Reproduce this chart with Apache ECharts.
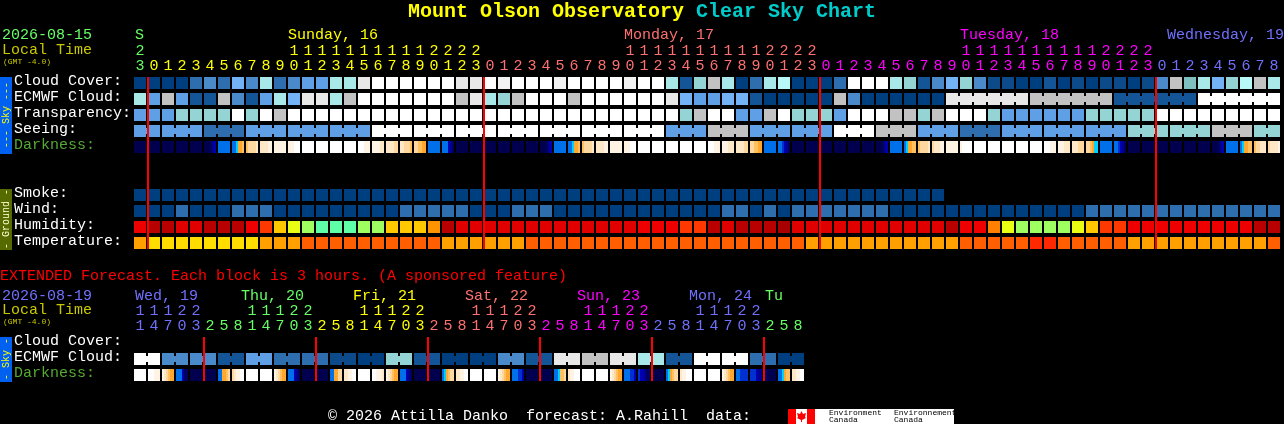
<!DOCTYPE html>
<html><head><meta charset="utf-8">
<style>html,body{margin:0;padding:0;background:#000}#c{width:1284px;height:424px}</style>
<script src="https://cdn.jsdelivr.net/npm/echarts@6/dist/echarts.min.js"></script>
</head><body><div id="c"></div>
<script>
const cloudPalette=['#003f7f','#135597','#2e6eae','#4a8aca','#5f9fe5','#72b2f5','#94d4d4','#a8e8e8','#b8f8f8','#c2c2c2','#e8e8e8','#ffffff','#f2f2f2','#7fbfbf','#0c4a8a'];
const humidityPalette=['#a80000','#b80000','#e00000','#ee0000','#ff3800','#ff8000','#ff9400','#ffc800','#e8ff14','#a0ff60','#5fffa8'];
const temperaturePalette=['#ffdd00','#ffa000','#ff5f00','#ff2800'];
const darknessPalette=['#00004f','#000060','#000090','#0000b0','#0030d0','#0070ea','#00d0ff','#ffa830','#ffc060','#ffd8a0','#ffe8c8','#fff4e4','#ffffff'];

const rowNames=['Cloud Cover:','ECMWF Cloud:','Transparency:','Seeing:','Darkness:','','','Smoke:','Wind:','Humidity:','Temperature:'];
const rowColors=['#fff','#fff','#fff','#fff','#55aa33','#fff','#fff','#fff','#fff','#fff','#fff'];
const extRowNames=['Cloud Cover:','ECMWF Cloud:','Darkness:'];
const extRowColors=['#fff','#fff','#55aa33'];

const hours=[23,0,1,2,3,4,5,6,7,8,9,10,11,12,13,14,15,16,17,18,19,20,21,22,23,0,1,2,3,4,5,6,7,8,9,10,11,12,13,14,15,16,17,18,19,20,21,22,23,0,1,2,3,4,5,6,7,8,9,10,11,12,13,14,15,16,17,18,19,20,21,22,23,0,1,2,3,4,5,6,7,8];
const extHours=[11,14,17,20,23,2,5,8,11,14,17,20,23,2,5,8,11,14,17,20,23,2,5,8,11,14,17,20,23,2,5,8,11,14,17,20,23,2,5,8,11,14,17,20,23,2,5,8];
const dayLabels=['S','Sunday, 16','Monday, 17','Tuesday, 18','Wednesday, 19'];
const extDayLabels=['Wed, 19','Thu, 20','Fri, 21','Sat, 22','Sun, 23','Mon, 24','Tu'];
const midnights=[1,25,49,73];
const extMidnights=[5,13,21,29,37,45];

const cloudCover=[0,0,0,0,2,3,2,5,3,7,2,3,4,4,7,7,10,11,11,11,11,
 11,11,10,10,11,12,11,11,11,12,11,11,11,11,12,11,11,7,1,6,9,7,0,2,7,8,0,0,0,2,11,
 11,11,7,6,1,3,5,6,3,14,14,0,0,1,0,14,0,14,14,0,14,3,9,13,7,5,6,8,9,7];
const ecmwfCloud=[7,4,9,4,1,1,9,3,1,4,7,5,10,10,7,9,11,11,11,11,11,
 11,11,9,10,7,6,9,11,11,11,9,11,11,11,11,11,11,10,5,4,4,5,5,1,0,0,0,0,0,9,3,
 0,0,0,0,0,0,10,10,10,10,10,10,9,9,9,9,9,9,1,1,1,1,1,1,11,11,11,11,11,11];
const ecmwfGroups=[[58,63],[64,69],[70,75],[76,81]];
const transparency=[4,4,4,6,6,6,6,11,6,11,9,11,11,11,11,11,11,11,11,11,11,
 11,11,11,11,11,11,11,11,11,11,11,11,11,11,11,11,11,11,6,9,11,11,4,4,9,11,6,6,6,4,11,
 11,11,9,9,6,9,11,11,11,6,4,4,4,4,4,4,6,6,6,6,6,11,11,11,11,11,11,11,11,11];
const seeing=[4,4,4,4,4,2,2,2,4,4,4,4,4,4,4,4,4,11,11,11,11,11,11,11,11,11,11,11,11,11,11,11,11,11,11,11,11,11,
 4,4,4,9,9,9,4,4,4,4,4,4,11,11,11,9,9,9,4,4,4,2,2,2,4,4,4,4,4,4,4,4,4,6,6,6,6,6,6,9,9,9,6,6];
const seeingGroups=[[0,1],[2,4],[5,7],[8,10],[11,13],[14,16],[17,19],[20,22],[23,25],[26,28],[29,31],[32,34],[35,37],[38,40],[41,43],[44,46],[47,49],[50,52],[53,55],[56,58],[59,61],[62,64],[65,67],[68,70],[71,73],[74,76],[77,79],[80,81]];
const darkness=['000000','000000','000000','000000','000000','000123','555555','556778','89999a','aaaabb','bbbbbb','bbbccc','cccccc','cccccc','cccccc','cccccc','cccbbb','bbbbaa','aaaa99','aa9998','998877',
 '555555','555321','000000','000000','000000','000000','000000','000000','000123','555555','556778','89999a','aaaabb','bbbbbb','bbbccc','cccccc','cccccc','cccccc','cccccc','cccccc','cccbbb','bbbaaa','aaaa99','998877','555555','554321','000000','000000','000000','000000','000000',
 '000000','000123','555555','567788','89999a','9aaabb','bbbbbb','bccccc','cccccc','cccccc','cccccc','cccccc','cccccc','cccbbb','bbbaaa','aaa999','998766','555555','554321','000000','000000','000000','000000','000000','000000','000123','555555','567788','899aaa','9aaaab'];
const smoke=[0,0,0,0,0,0,0,0,0,0,0,0,0,0,0,0,0,0,0,0,0,0,0,0,0,0,0,0,0,0,0,0,0,0,0,0,0,0,0,0,0,0,0,0,0,0,0,0,0,0,0,0,0,0,0,0,0,0];
const wind=[0,0,0,2,0,0,0,2,2,2,0,0,0,0,0,0,0,0,0,2,2,2,2,2,0,0,0,2,2,2,0,0,0,0,0,0,0,0,0,0,0,0,2,2,0,2,0,2,2,2,2,2,2,2,0,0,0,0,0,0,0,0,0,0,0,0,0,0,2,2,2,2,2,2,2,2,2,2,2,2,2,2];
const humidity=[3,1,1,2,2,1,1,1,3,4,7,8,9,10,10,10,9,9,7,7,7,
 6,1,2,2,2,2,2,2,2,2,2,2,2,2,2,3,3,3,4,4,1,2,1,1,1,0,2,2,2,2,2,
 2,2,2,2,2,2,1,3,3,5,8,9,9,9,9,8,7,4,4,3,3,3,3,3,3,3,3,3,1,1];
const temperature=[1,0,0,0,0,0,0,0,0,1,1,1,2,2,2,2,2,2,2,2,2,2,1,1,1,1,1,1,2,2,2,2,2,2,2,2,2,2,2,2,2,2,2,2,2,2,2,2,1,1,1,1,1,1,1,1,1,1,1,2,2,2,2,2,3,3,2,2,2,2,2,1,1,1,1,1,1,1,1,1,1,2];

const extEcmwf=[11,11,3,3,3,3,1,1,4,4,2,2,2,2,14,14,0,0,6,6,1,1,0,0,0,0,3,3,1,1,10,10,9,9,10,10,7,7,1,1,11,11,11,11,2,2,0,0];
const extGroups=[[0,1],[2,3],[4,5],[6,7],[8,9],[10,11],[12,13],[14,15],[16,17],[18,19],[20,21],[22,23],[24,25],[26,27],[28,29],[30,31],[32,33],[34,35],[36,37],[38,39],[40,41],[42,43],[44,45],[46,47]];
const extDarkness=['cccccc','cccbbb','ba9877','555311','000000','000000','557789','9abbcc','cccccc','cccccc','ba9877','555321','000000','000000','557799','aabbcc','cccccc','ccbbba','ba9877','555321','000000','000000','567899','aabbcc','cccccc','cccccc','ba9877','555443','000000','000000','556889','abbccc','cccccc','cccccc','ba9877','555443','433211','000000','567899','abbccc','cccccc','cccccc','ba9877','554444','444322','110000','556788','aabbcc'];

const FONT='"Liberation Mono"';
const DAY={green:'#66ff66',yellow:'#ffff00',pink:'#ff7070',mag:'#ff00ff',blue:'#7070ff'};
const dayColors=[DAY.green,DAY.yellow,DAY.pink,DAY.mag,DAY.blue];
const extDayColors=[DAY.blue,DAY.green,DAY.yellow,DAY.pink,DAY.mag,DAY.blue,DAY.green];
const dayX=[135,288,624,960,1167];
const extDayX=[135,241,353,465,577,689,765];
const CELL=12,JOIN=6,PITCH=14;

function joinEnds(groups){const s={};groups.forEach(g=>{for(let i=g[0];i<g[1];i++)s[i]=1;});return s;}
function blockSeries(name,axis,row,values,palette,groups,z){
  const joins=joinEnds(groups||[]);
  return {name,type:'custom',xAxisIndex:axis.x,yAxisIndex:axis.y,silent:true,clip:false,z:z||2,animation:false,
    encode:{x:0,y:1},
    data:values.map((v,i)=>[i,row,v]),
    renderItem(p,api){
      const c=api.coord([api.value(0),api.value(1)]);
      const fill=palette[api.value(2)];
      const ch=[{type:'rect',shape:{x:c[0]-CELL/2,y:c[1]-CELL/2,width:CELL,height:CELL},style:{fill}}];
      if(joins[api.value(0)]) ch.push({type:'rect',shape:{x:c[0]+CELL/2,y:c[1]-JOIN/2,width:PITCH-CELL,height:JOIN},style:{fill}});
      return {type:'group',children:ch};
    }};
}
function darkSeries(name,axis,row,strip){
  return {name,type:'custom',xAxisIndex:axis.x,yAxisIndex:axis.y,silent:true,clip:false,z:2,animation:false,
    encode:{x:0,y:1},
    data:strip.map((s,i)=>[i,row]),
    renderItem(p,api){
      const col=api.value(0),c=api.coord([col,api.value(1)]);
      const s=strip[col],n=s.length,w=CELL/n;
      const ch=[];
      for(let k=0;k<n;k++) ch.push({type:'rect',shape:{x:c[0]-CELL/2+k*w,y:c[1]-CELL/2,width:w,height:CELL},style:{fill:darknessPalette[parseInt(s[k],16)]}});
      return {type:'group',children:ch};
    }};
}
function redLines(name,axis,cols,firstRow,lastRow){
  return {name,type:'custom',xAxisIndex:axis.x,yAxisIndex:axis.y,silent:true,clip:false,z:5,animation:false,
    encode:{x:0},
    data:cols.map(c=>[c,firstRow]),
    renderItem(p,api){
      const col=api.value(0);
      const a=api.coord([col,firstRow]),b=api.coord([col,lastRow]);
      return {type:'rect',shape:{x:a[0]-PITCH/2,y:a[1]-CELL/2,width:2,height:b[1]-a[1]+CELL},style:{fill:'#ff0000'}};
    }};
}
function colorsByHour(list,first,colors){let d=first;return list.map((h,i)=>{if(i>0&&h<list[i-1])d++;return colors[d];});}
const hourColors=colorsByHour(hours,0,dayColors);
const extHourColors=colorsByHour(extHours,0,extDayColors.slice(0));
function hx(gridIndex,list,colors,fmt,offset){
  return {type:'category',gridIndex,position:'top',offset,data:list.map(fmt),
    axisLine:{show:false},axisTick:{show:false},splitLine:{show:false},
    axisLabel:{show:true,interval:0,margin:1,fontFamily:FONT,fontSize:15,color:(v,i)=>colors[i],hideOverlap:false}};
}
function vy(gridIndex,names,colors){
  return {type:'category',gridIndex,inverse:true,data:names,
    axisLine:{show:false},axisTick:{show:false},splitLine:{show:false},
    axisLabel:{show:true,interval:0,margin:119,align:'left',verticalAlign:'bottom',lineHeight:4,fontFamily:FONT,fontSize:15,color:(v,i)=>colors[i]}};
}
const M={x:0,y:0},E={x:2,y:1};
const units=h=>String(h%10),tens=h=>h>=10?String(Math.floor(h/10)):'';

const texts=[];
function T(text,x,y,fill,size,extra){texts.push({type:'text',x,y,silent:true,style:{text,fill,font:(extra&&extra.bold?'bold ':'')+size+'px '+FONT,textAlign:'left',textVerticalAlign:'middle'}});}
T('Mount Olson Observatory',408,12,'#ffff00',20,{bold:true});
T('Clear Sky Chart',696,12,'#00cccc',20,{bold:true});
T('2026-08-15',2,35,'#66ff66',15);
T('Local Time',2,50,'#c8c800',15);
T('(GMT -4.0)',3,62,'#c8c800',8);
dayLabels.forEach((s,i)=>T(s,dayX[i],35,dayColors[i],15));
T('EXTENDED Forecast. Each block is 3 hours. (A sponsored feature)',0,276,'#ff0000',15);
T('2026-08-19',2,296,'#7070ff',15);
T('Local Time',2,310,'#c8c800',15);
T('(GMT -4.0)',3,322,'#c8c800',8);
extDayLabels.forEach((s,i)=>T(s,extDayX[i],296,extDayColors[i],15));
T('© 2026 Attilla Danko  forecast: A.Rahill  data:',328,416,'#ffffff',15);

const bars=[
 {type:'rect',silent:true,shape:{x:0,y:77,width:12,height:77},style:{fill:'#0060f0'}},
 {type:'rect',silent:true,shape:{x:0,y:189,width:12,height:61},style:{fill:'#556b00'}},
 {type:'rect',silent:true,shape:{x:0,y:337,width:12,height:45},style:{fill:'#0060f0'}},
 {type:'rect',silent:true,shape:{x:788,y:409,width:166,height:15},style:{fill:'#ffffff'}},
 {type:'rect',silent:true,shape:{x:788,y:409,width:8,height:15},style:{fill:'#ff0000'}},
 {type:'rect',silent:true,shape:{x:807,y:409,width:8,height:15},style:{fill:'#ff0000'}},
 {type:'polygon',silent:true,shape:{points:[[801.5,411],[803,414],[806,413],[805,417],[806,418],[802,420],[802,422],[801,422],[801,420],[797,418],[798,417],[797,413],[800,414]]},style:{fill:'#ff0000'}}
];
function V(text,y,fill){texts.push({type:'text',x:6,y,rotation:Math.PI/2,silent:true,style:{text,fill,font:'10px '+FONT,textAlign:'center',textVerticalAlign:'middle'}});}
V('--- Sky ---',115,'#ffff00');
V('- Ground -',219,'#ffffcc');
V('- Sky -',359,'#ffff00');
T('Environment',829,413,'#000',8);T('Canada',829,420,'#000',8);
T('Environnement',894,413,'#000',8);T('Canada',894,420,'#000',8);

const option={
 backgroundColor:'#000',animation:false,
 grid:[{left:133,top:75,width:1148,height:176},{left:133,top:335,width:672,height:48}],
 xAxis:[hx(0,hours,hourColors,units,0),hx(0,hours,hourColors,tens,15),hx(1,extHours,extHourColors,units,0),hx(1,extHours,extHourColors,tens,15)],
 yAxis:[vy(0,rowNames,rowColors),vy(1,extRowNames,extRowColors)],
 graphic:{elements:bars.concat(texts)},
 series:[
  blockSeries('Cloud Cover',M,0,cloudCover,cloudPalette),
  blockSeries('ECMWF Cloud',M,1,ecmwfCloud,cloudPalette,ecmwfGroups),
  blockSeries('Transparency',M,2,transparency,cloudPalette),
  blockSeries('Seeing',M,3,seeing,cloudPalette,seeingGroups),
  darkSeries('Darkness',M,4,darkness),
  blockSeries('Smoke',M,7,smoke,cloudPalette),
  blockSeries('Wind',M,8,wind,cloudPalette),
  blockSeries('Humidity',M,9,humidity,humidityPalette),
  blockSeries('Temperature',M,10,temperature,temperaturePalette),
  redLines('Midnight',M,midnights,0,10),
  blockSeries('Ext ECMWF Cloud',E,1,extEcmwf,cloudPalette,extGroups),
  darkSeries('Ext Darkness',E,2,extDarkness),
  redLines('Ext Midnight',E,extMidnights,0,2)
 ]
};
const chart=echarts.init(document.getElementById('c'),null,{width:1284,height:424,renderer:'canvas'});
chart.setOption(option);
</script></body></html>
